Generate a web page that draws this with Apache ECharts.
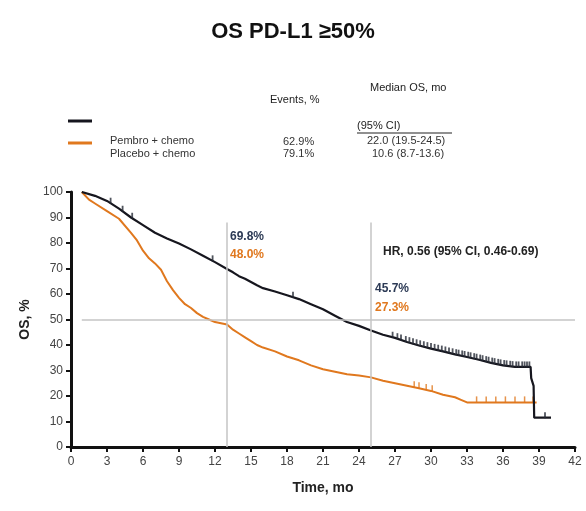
<!DOCTYPE html>
<html><head><meta charset="utf-8">
<script src="https://cdn.jsdelivr.net/npm/echarts@6/dist/echarts.min.js"></script>
<style>html,body{margin:0;padding:0;background:#fff}#c{width:586px;height:511px}</style>
</head><body><div id="c"></div>
<script>
// Pembro + chemo KM curve (months, OS %)
const pembroT = [0.9,2,3,4,5,6,7,8,9,10,11,12,13,13.5,14,14.5,15,15.5,16,17,18,19,20,21,22,23,24,25,26,27,28,29,30,31,32,33,34,35,36,37,38.3,38.35,38.5,38.55,38.6,40];
const pembroS = [100,98.5,96.5,93.5,90,87,84,81.8,79.8,77.5,75,72.5,69.8,68.5,67,66,64.7,63.4,62.3,61,59.5,58,56,54,51.5,49,47.5,45.7,44,42.8,41.2,39.8,38.6,37.5,36.3,35.3,34.2,33,32,31.4,31.4,27,27,24,11.5,11.5];
// Placebo + chemo KM curve
const placeboT = [0.9,1.5,2,3,4,5,5.5,6,6.5,7,7.5,8,8.5,9,9.5,10,10.5,11,11.5,12,12.5,13,13.5,14,14.5,15,15.5,16,17,18,19,20,21,22,23,24,25,26,27,28,29,30,31,32,32.5,33,38.8];
const placeboS = [100,97,95.5,92.5,89.5,84,81,77,74,72,69.5,65,61.5,58.5,56,54.5,52.5,51,50,49,48.5,48,46,44.5,43,41.5,40,39,37.5,35.5,34,32,30.5,29.5,28.5,28,27.3,26,25,24,23,22,20.5,19.5,18.5,17.5,17.5];
// censoring times
const pembroCens = [3.3,4.3,5.1,11.8,18.5,26.8,27.2,27.5,27.9,28.2,28.5,28.8,29.1,29.4,29.7,30,30.3,30.6,30.9,31.2,31.5,31.8,32.1,32.3,32.6,32.8,33.1,33.3,33.6,33.8,34.1,34.3,34.6,34.8,35.1,35.3,35.6,35.8,36.1,36.3,36.6,36.8,37.1,37.3,37.6,37.8,38.0,38.2,39.5];
const placeboCens = [28.6,29.0,29.6,30.1,33.8,34.6,35.4,36.2,37.0,37.8,38.5];
const xTicks = [0,3,6,9,12,15,18,21,24,27,30,33,36,39,42];
const landmarks = [13,25];
const pembroLand = ['69.8%','45.7%'];
const placeboLand = ['48.0%','27.3%'];

const BLK = '#16161e', ORG = '#e0781e', NAVY = '#2c3a55';
function valAt(T,S,t){let v=S[0];for(let i=0;i<T.length;i++){if(T[i]<=t)v=S[i];else{ if(i>0){const f=(t-T[i-1])/(T[i]-T[i-1]);v=S[i-1]+f*(S[i]-S[i-1]);} break;}}return v;}
const pembroData = pembroT.map((t,i)=>[t,pembroS[i]]);
const placeboData = placeboT.map((t,i)=>[t,placeboS[i]]);
const chart = echarts.init(document.getElementById('c'));
const F = 'Liberation Sans, Arial, sans-serif';
chart.setOption({
  backgroundColor:'#ffffff',
  animation:false,
  title:{text:'OS PD-L1 \u226550%',left:'center',top:16,textStyle:{fontFamily:F,fontSize:22,fontWeight:'bold',color:'#111'}},
  grid:{left:71,right:11,top:192,bottom:64},
  xAxis:{type:'value',min:0,max:42,interval:3,
    name:'Time, mo',nameLocation:'middle',nameGap:34,nameTextStyle:{fontFamily:F,fontSize:14,fontWeight:'bold',color:'#222'},
    axisLine:{lineStyle:{color:'#111',width:3}},axisTick:{length:5,lineStyle:{color:'#111',width:2}},
    axisLabel:{fontFamily:F,fontSize:12,color:'#444',margin:9,formatter:v=>xTicks.includes(v)?String(v):''},
    splitLine:{show:false}},
  yAxis:{type:'value',min:0,max:100,interval:10,
    name:'OS, %',nameLocation:'middle',nameGap:34,nameRotate:90,nameTextStyle:{fontFamily:F,fontSize:14,fontWeight:'bold',color:'#222'},
    axisLine:{show:true,lineStyle:{color:'#111',width:3}},axisTick:{show:true,length:5,lineStyle:{color:'#111',width:2}},
    axisLabel:{fontFamily:F,fontSize:12,color:'#444',margin:8},
    splitLine:{show:false}},
  series:[
    {type:'line',name:'ref',data:[],silent:true,
     markLine:{symbol:'none',silent:true,label:{show:false},lineStyle:{color:'#c4c4c4',width:1.5,type:'solid'},
       data:[
         [{coord:[landmarks[0],0]},{coord:[landmarks[0],88]}],
         [{coord:[landmarks[1],0]},{coord:[landmarks[1],88]}],
         [{coord:[0.9,50]},{coord:[42,50]}]
       ]}},
    {type:'line',name:'Placebo + chemo',data:placeboData,showSymbol:false,lineStyle:{color:ORG,width:2},z:3},
    {type:'line',name:'Pembro + chemo',data:pembroData,showSymbol:false,lineStyle:{color:BLK,width:2.2},z:4},
    {type:'scatter',data:placeboCens.map(t=>[t,valAt(placeboT,placeboS,t)]),symbol:'rect',symbolSize:[1.5,6],symbolOffset:[0,-3],itemStyle:{color:ORG},z:3},
    {type:'scatter',data:pembroCens.map(t=>[t,valAt(pembroT,pembroS,t)]),symbol:'rect',symbolSize:[1.8,6],symbolOffset:[0,-2.5],itemStyle:{color:'#262a36'},z:4}
  ],
  graphic:[
    {type:'line',shape:{x1:68,y1:121,x2:92,y2:121},style:{stroke:BLK,lineWidth:3}},
    {type:'line',shape:{x1:68,y1:143,x2:92,y2:143},style:{stroke:ORG,lineWidth:3}},
    {type:'text',left:110,top:135,style:{text:'Pembro + chemo',font:'11px '+F,fill:'#333'}},
    {type:'text',left:110,top:148,style:{text:'Placebo + chemo',font:'11px '+F,fill:'#333'}},
    {type:'text',left:270,top:94,style:{text:'Events, %',font:'11px '+F,fill:'#222'}},
    {type:'text',left:370,top:82,style:{text:'Median OS, mo',font:'11px '+F,fill:'#222'}},
    {type:'text',left:357,top:120,style:{text:'(95% CI)',font:'11px '+F,fill:'#222'}},
    {type:'line',shape:{x1:357,y1:133,x2:452,y2:133},style:{stroke:'#222',lineWidth:1.2}},
    {type:'text',left:283,top:136,style:{text:'62.9%',font:'11px '+F,fill:'#333'}},
    {type:'text',left:283,top:148,style:{text:'79.1%',font:'11px '+F,fill:'#333'}},
    {type:'text',left:367,top:135,style:{text:'22.0 (19.5-24.5)',font:'11px '+F,fill:'#333'}},
    {type:'text',left:372,top:148,style:{text:'10.6 (8.7-13.6)',font:'11px '+F,fill:'#333'}},
    {type:'text',left:230,top:231,style:{text:pembroLand[0],font:'bold 12px '+F,fill:NAVY}},
    {type:'text',left:230,top:249,style:{text:placeboLand[0],font:'bold 12px '+F,fill:ORG}},
    {type:'text',left:375,top:283,style:{text:pembroLand[1],font:'bold 12px '+F,fill:NAVY}},
    {type:'text',left:375,top:302,style:{text:placeboLand[1],font:'bold 12px '+F,fill:ORG}},
    {type:'text',left:383,top:246,style:{text:'HR, 0.56 (95% CI, 0.46-0.69)',font:'bold 12px '+F,fill:'#222'}}
  ]
});
</script></body></html>
